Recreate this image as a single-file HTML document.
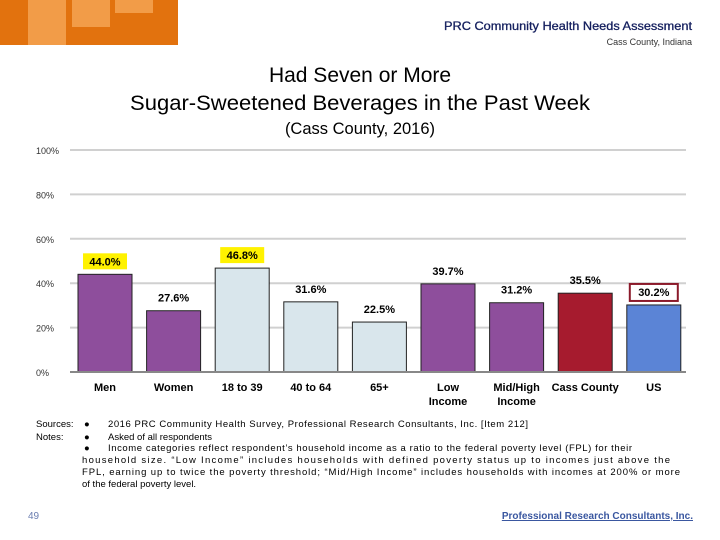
<!DOCTYPE html>
<html><head><meta charset="utf-8"><style>
body{margin:0;width:720px;height:540px;background:#fff;position:relative;overflow:hidden;font-family:"Liberation Sans",sans-serif}
.a{position:absolute}
</style></head><body>
<svg class="a" style="left:0;top:0" width="720" height="540">
<g>
<rect x="0" y="0" width="178" height="45" fill="#E2720E"/>
<rect x="28" y="0" width="38" height="45" fill="#F29C48"/>
<rect x="72" y="0" width="38" height="27" fill="#F29C48"/>
<rect x="115" y="0" width="38" height="13" fill="#F29C48"/>
</g>
<text x="692" y="30" text-anchor="end" font-size="12" textLength="248" lengthAdjust="spacingAndGlyphs" fill="#141F5E" stroke="#141F5E" stroke-width="0.3">PRC Community Health Needs Assessment</text>
<text x="692" y="45" text-anchor="end" font-size="9" fill="#333">Cass County, Indiana</text>
<text x="360" y="82" text-anchor="middle" font-size="21" fill="#000">Had Seven or More</text>
<text x="360" y="110" text-anchor="middle" font-size="21" textLength="460" lengthAdjust="spacingAndGlyphs" fill="#000">Sugar-Sweetened Beverages in the Past Week</text>
<text x="360" y="134" text-anchor="middle" font-size="16.5" fill="#000">(Cass County, 2016)</text>
<g id="chart"></g>
<g font-size="9.5" fill="#000">
<text x="36" y="427">Sources:</text>
<text x="36" y="440">Notes:</text>
<text x="84" y="427">●</text><text x="84" y="440">●</text><text x="84" y="451">●</text>
<text x="108" y="427" textLength="420">2016 PRC Community Health Survey, Professional Research Consultants, Inc. [Item 212]</text>
<text x="108" y="440">Asked of all respondents</text>
<text x="108" y="451" textLength="524">Income categories reflect respondent’s household income as a ratio to the federal poverty level (FPL) for their</text>
<text x="82" y="463" textLength="588">household size. “Low Income” includes households with defined poverty status up to incomes just above the</text>
<text x="82" y="475" textLength="598">FPL, earning up to twice the poverty threshold; “Mid/High Income” includes households with incomes at 200% or more</text>
<text x="82" y="487">of the federal poverty level.</text>
</g>
<text x="28" y="519" font-size="10" fill="#6A7DB0">49</text>
<text x="693" y="519" text-anchor="end" font-size="10" font-weight="bold" fill="#3A57A0" text-decoration="underline">Professional Research Consultants, Inc.</text>
</svg>
<script>
const categories=["Men","Women","18 to 39","40 to 64","65+","Low|Income","Mid/High|Income","Cass County","US"];
const values=[44.0,27.6,46.8,31.6,22.5,39.7,31.2,35.5,30.2];
const colors=["#8E4E9C","#8E4E9C","#D9E6EC","#D9E6EC","#D9E6EC","#8E4E9C","#8E4E9C","#A61B2E","#5B84D6"];
const ticks=[0,20,40,60,80,100];
const NS="http://www.w3.org/2000/svg";
const g=document.getElementById('chart');
const x0=70,x1=686,y0=372,y100=150,slot=68.6,bw=54;
const y=v=>y0-(v/100)*(y0-y100);
const xc=i=>x0+8+bw/2+i*slot;
function mk(t,a){const e=document.createElementNS(NS,t);for(const k in a)e.setAttribute(k,a[k]);g.appendChild(e);return e;}
ticks.forEach(t=>{
 if(t>0){const l=mk('line',{x1:x0,x2:x1,y1:y(t),y2:y(t),stroke:'#D0D0D0','stroke-width':2});
 
 }
 const tx=mk('text',{x:36,y:y(t)+4,'font-size':9,fill:'#333'});tx.textContent=t+'%';
 
 
});
values.forEach((v,i)=>{
 const r=mk('rect',{x:xc(i)-bw/2,y:y(v),width:bw,height:y0-y(v),fill:colors[i],stroke:'#222','stroke-width':1});
 
 
 const ly=y(v)-9;
 if(i===0||i===2){const b=mk('rect',{x:xc(i)-22,y:ly-12,width:44,height:16,fill:'#FFF200'});
 
 }
 if(i===8){const b=mk('rect',{x:xc(i)-24,y:ly-12,width:48,height:17,fill:'#fff',stroke:'#8B1A2B','stroke-width':2});
 
 }
 const t=mk('text',{x:xc(i),y:ly,'text-anchor':'middle','font-size':11,'font-weight':'bold',fill:'#000'});t.textContent=v.toFixed(1)+'%';
 
 
 categories[i].split('|').forEach((s,j)=>{const c=mk('text',{x:xc(i),y:391+j*14,'text-anchor':'middle','font-size':11,'font-weight':'bold',fill:'#000'});c.textContent=s;
 
 });
});
const ax=mk('line',{x1:x0,x2:x1,y1:y0,y2:y0,stroke:'#888','stroke-width':2});


</script>
</body></html>
